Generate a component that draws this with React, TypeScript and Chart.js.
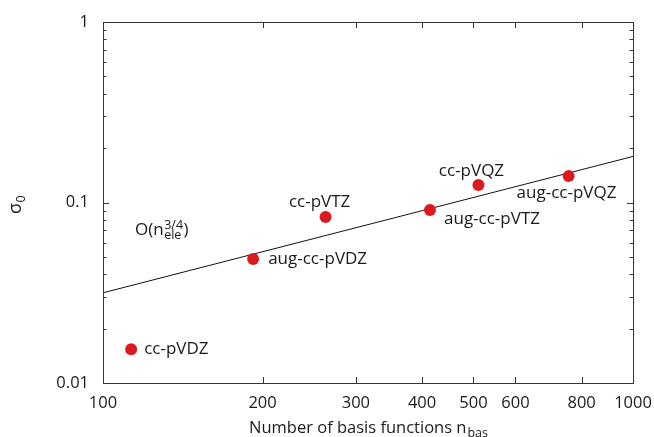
import React, { useEffect, useRef } from 'react';
import { Chart, registerables } from 'chart.js';

Chart.register(...registerables);

// ---- data ----
const basisSets = ['cc-pVDZ', 'aug-cc-pVDZ', 'cc-pVTZ', 'aug-cc-pVTZ', 'cc-pVQZ', 'aug-cc-pVQZ'];
const nBas = [113, 192, 263, 414, 511, 756];
const sigma0 = [0.0154, 0.0486, 0.0831, 0.0909, 0.125, 0.14];
const fitN = [100, 1000];
const fitSigma = [0.0316, 0.18];
const xTickValues = [100, 200, 300, 400, 500, 600, 800, 1000];
const yTickValues = [0.01, 0.1, 1];
const yMinorValues = [0.02, 0.03, 0.04, 0.05, 0.06, 0.07, 0.08, 0.09, 0.2, 0.3, 0.4, 0.5, 0.6, 0.7, 0.8, 0.9];

// ---- label placement (style, not data) ----
const labelPlacement: Record<string, { align: CanvasTextAlign; dx: number; dy: number }> = {
  'cc-pVDZ': { align: 'left', dx: 13, dy: 0 },
  'aug-cc-pVDZ': { align: 'left', dx: 15, dy: 0 },
  'cc-pVTZ': { align: 'center', dx: -6, dy: -15 },
  'aug-cc-pVTZ': { align: 'left', dx: 14, dy: 9 },
  'cc-pVQZ': { align: 'center', dx: -7, dy: -14 },
  'aug-cc-pVQZ': { align: 'left', dx: -52, dy: 17 },
};

const FONT = '"Open Sans", "Noto Sans", sans-serif';
const TEXT = '#1a1a1a';
const AXIS = '#333333';
const RED = '#db1a1f';

const decorPlugin = {
  id: 'decor',
  afterDatasetsDraw(chart: any) {
    const ctx = chart.ctx as CanvasRenderingContext2D;
    const { left, right, top, bottom } = chart.chartArea;
    const xs = chart.scales.x;
    const ys = chart.scales.y;
    ctx.save();
    // frame
    ctx.strokeStyle = AXIS;
    ctx.lineWidth = 1;
    ctx.strokeRect(Math.round(left) + 0.5, Math.round(top) + 0.5, Math.round(right - left), Math.round(bottom - top));
    // ticks (inside, mirrored)
    ctx.beginPath();
    for (const v of xTickValues) {
      const px = Math.round(xs.getPixelForValue(v)) + 0.5;
      ctx.moveTo(px, bottom);
      ctx.lineTo(px, bottom - 6);
      ctx.moveTo(px, top);
      ctx.lineTo(px, top + 6);
    }
    for (const v of yTickValues) {
      const py = Math.round(ys.getPixelForValue(v)) + 0.5;
      ctx.moveTo(left, py);
      ctx.lineTo(left + 6, py);
      ctx.moveTo(right, py);
      ctx.lineTo(right - 6, py);
    }
    for (const v of yMinorValues) {
      const py = Math.round(ys.getPixelForValue(v)) + 0.5;
      ctx.moveTo(left, py);
      ctx.lineTo(left + 3.5, py);
      ctx.moveTo(right, py);
      ctx.lineTo(right - 3.5, py);
    }
    ctx.stroke();

    // point labels
    const meta = chart.getDatasetMeta(0);
    ctx.fillStyle = TEXT;
    ctx.font = `17px ${FONT}`;
    ctx.textBaseline = 'middle';
    basisSets.forEach((name, i) => {
      const el = meta.data[i];
      const p = labelPlacement[name];
      ctx.textAlign = p.align;
      ctx.fillText(name, el.x + p.dx, el.y + p.dy);
    });

    // scaling annotation O(n_ele^{3/4})
    ctx.textAlign = 'left';
    ctx.textBaseline = 'alphabetic';
    const ax = 135;
    const ay = 235;
    ctx.font = `17px ${FONT}`;
    ctx.fillText('O(n', ax, ay);
    const w0 = ctx.measureText('O(n').width;
    ctx.font = `12.5px ${FONT}`;
    ctx.fillText('3/4', ax + w0 + 0.5, ay - 6);
    ctx.fillText('ele', ax + w0 + 0.5, ay + 4);
    const w1 = Math.max(ctx.measureText('3/4').width, ctx.measureText('ele').width);
    ctx.font = `17px ${FONT}`;
    ctx.fillText(')', ax + w0 + w1 + 1, ay);

    // x-axis title
    const cx = 249;
    const cy = 433;
    ctx.font = `16.5px ${FONT}`;
    ctx.fillText('Number of basis functions n', cx, cy);
    const wt = ctx.measureText('Number of basis functions n').width;
    ctx.font = `12.5px ${FONT}`;
    ctx.fillText('bas', cx + wt + 1, cy + 4);

    // y-axis title (rotated)
    ctx.translate(21, 214);
    ctx.rotate(-Math.PI / 2);
    ctx.font = `18px ${FONT}`;
    ctx.fillText('σ', 0, 0);
    const ws = ctx.measureText('σ').width;
    ctx.font = `12.5px ${FONT}`;
    ctx.fillText('0', ws + 0.5, 4);
    ctx.restore();
  },
};

export default function App() {
  const ref = useRef<HTMLCanvasElement>(null);
  useEffect(() => {
    document.body.style.margin = '0';
    const canvas = ref.current!;
    const chart = new Chart(canvas, {
      type: 'scatter',
      data: {
        datasets: [
          {
            data: nBas.map((x, i) => ({ x, y: sigma0[i] })),
            backgroundColor: RED,
            borderColor: RED,
            pointRadius: 6,
            pointBorderWidth: 0,
          },
          {
            data: fitN.map((x, i) => ({ x, y: fitSigma[i] })),
            showLine: true,
            borderColor: '#111111',
            borderWidth: 1,
            pointRadius: 0,
            fill: false,
          },
        ],
      },
      plugins: [decorPlugin],
      options: {
        animation: false,
        responsive: false,
        maintainAspectRatio: false,
        events: [],
        layout: { padding: { top: 22, right: 21, left: 0, bottom: 0 } },
        plugins: { legend: { display: false }, tooltip: { enabled: false }, title: { display: false } },
        scales: {
          x: {
            type: 'logarithmic',
            min: 100,
            max: 1000,
            afterBuildTicks: (scale: any) => {
              scale.ticks = xTickValues.map((v) => ({ value: v }));
            },
            afterFit: (scale: any) => {
              scale.height = 54;
              scale.paddingLeft = 0;
              scale.paddingRight = 0;
            },
            grid: { display: false, drawTicks: false },
            border: { display: false },
            ticks: {
              autoSkip: false,
              maxRotation: 0,
              padding: 10,
              color: TEXT,
              font: { family: FONT, size: 16.5 },
              callback: (v: any) => String(v),
            },
          },
          y: {
            type: 'logarithmic',
            min: 0.01,
            max: 1,
            afterBuildTicks: (scale: any) => {
              scale.ticks = yTickValues.map((v) => ({ value: v }));
            },
            afterFit: (scale: any) => {
              scale.width = 103;
              scale.paddingTop = 0;
              scale.paddingBottom = 0;
            },
            grid: { display: false, drawTicks: false },
            border: { display: false },
            ticks: {
              autoSkip: false,
              padding: 14,
              color: TEXT,
              font: { family: FONT, size: 16.5 },
              callback: (v: any) => String(v),
            },
          },
        },
      },
    });
    return () => chart.destroy();
  }, []);
  return (
    <div style={{ width: 654, height: 437 }}>
      <canvas ref={ref} width={654} height={437} style={{ display: 'block', width: 654, height: 437 }} />
    </div>
  );
}
